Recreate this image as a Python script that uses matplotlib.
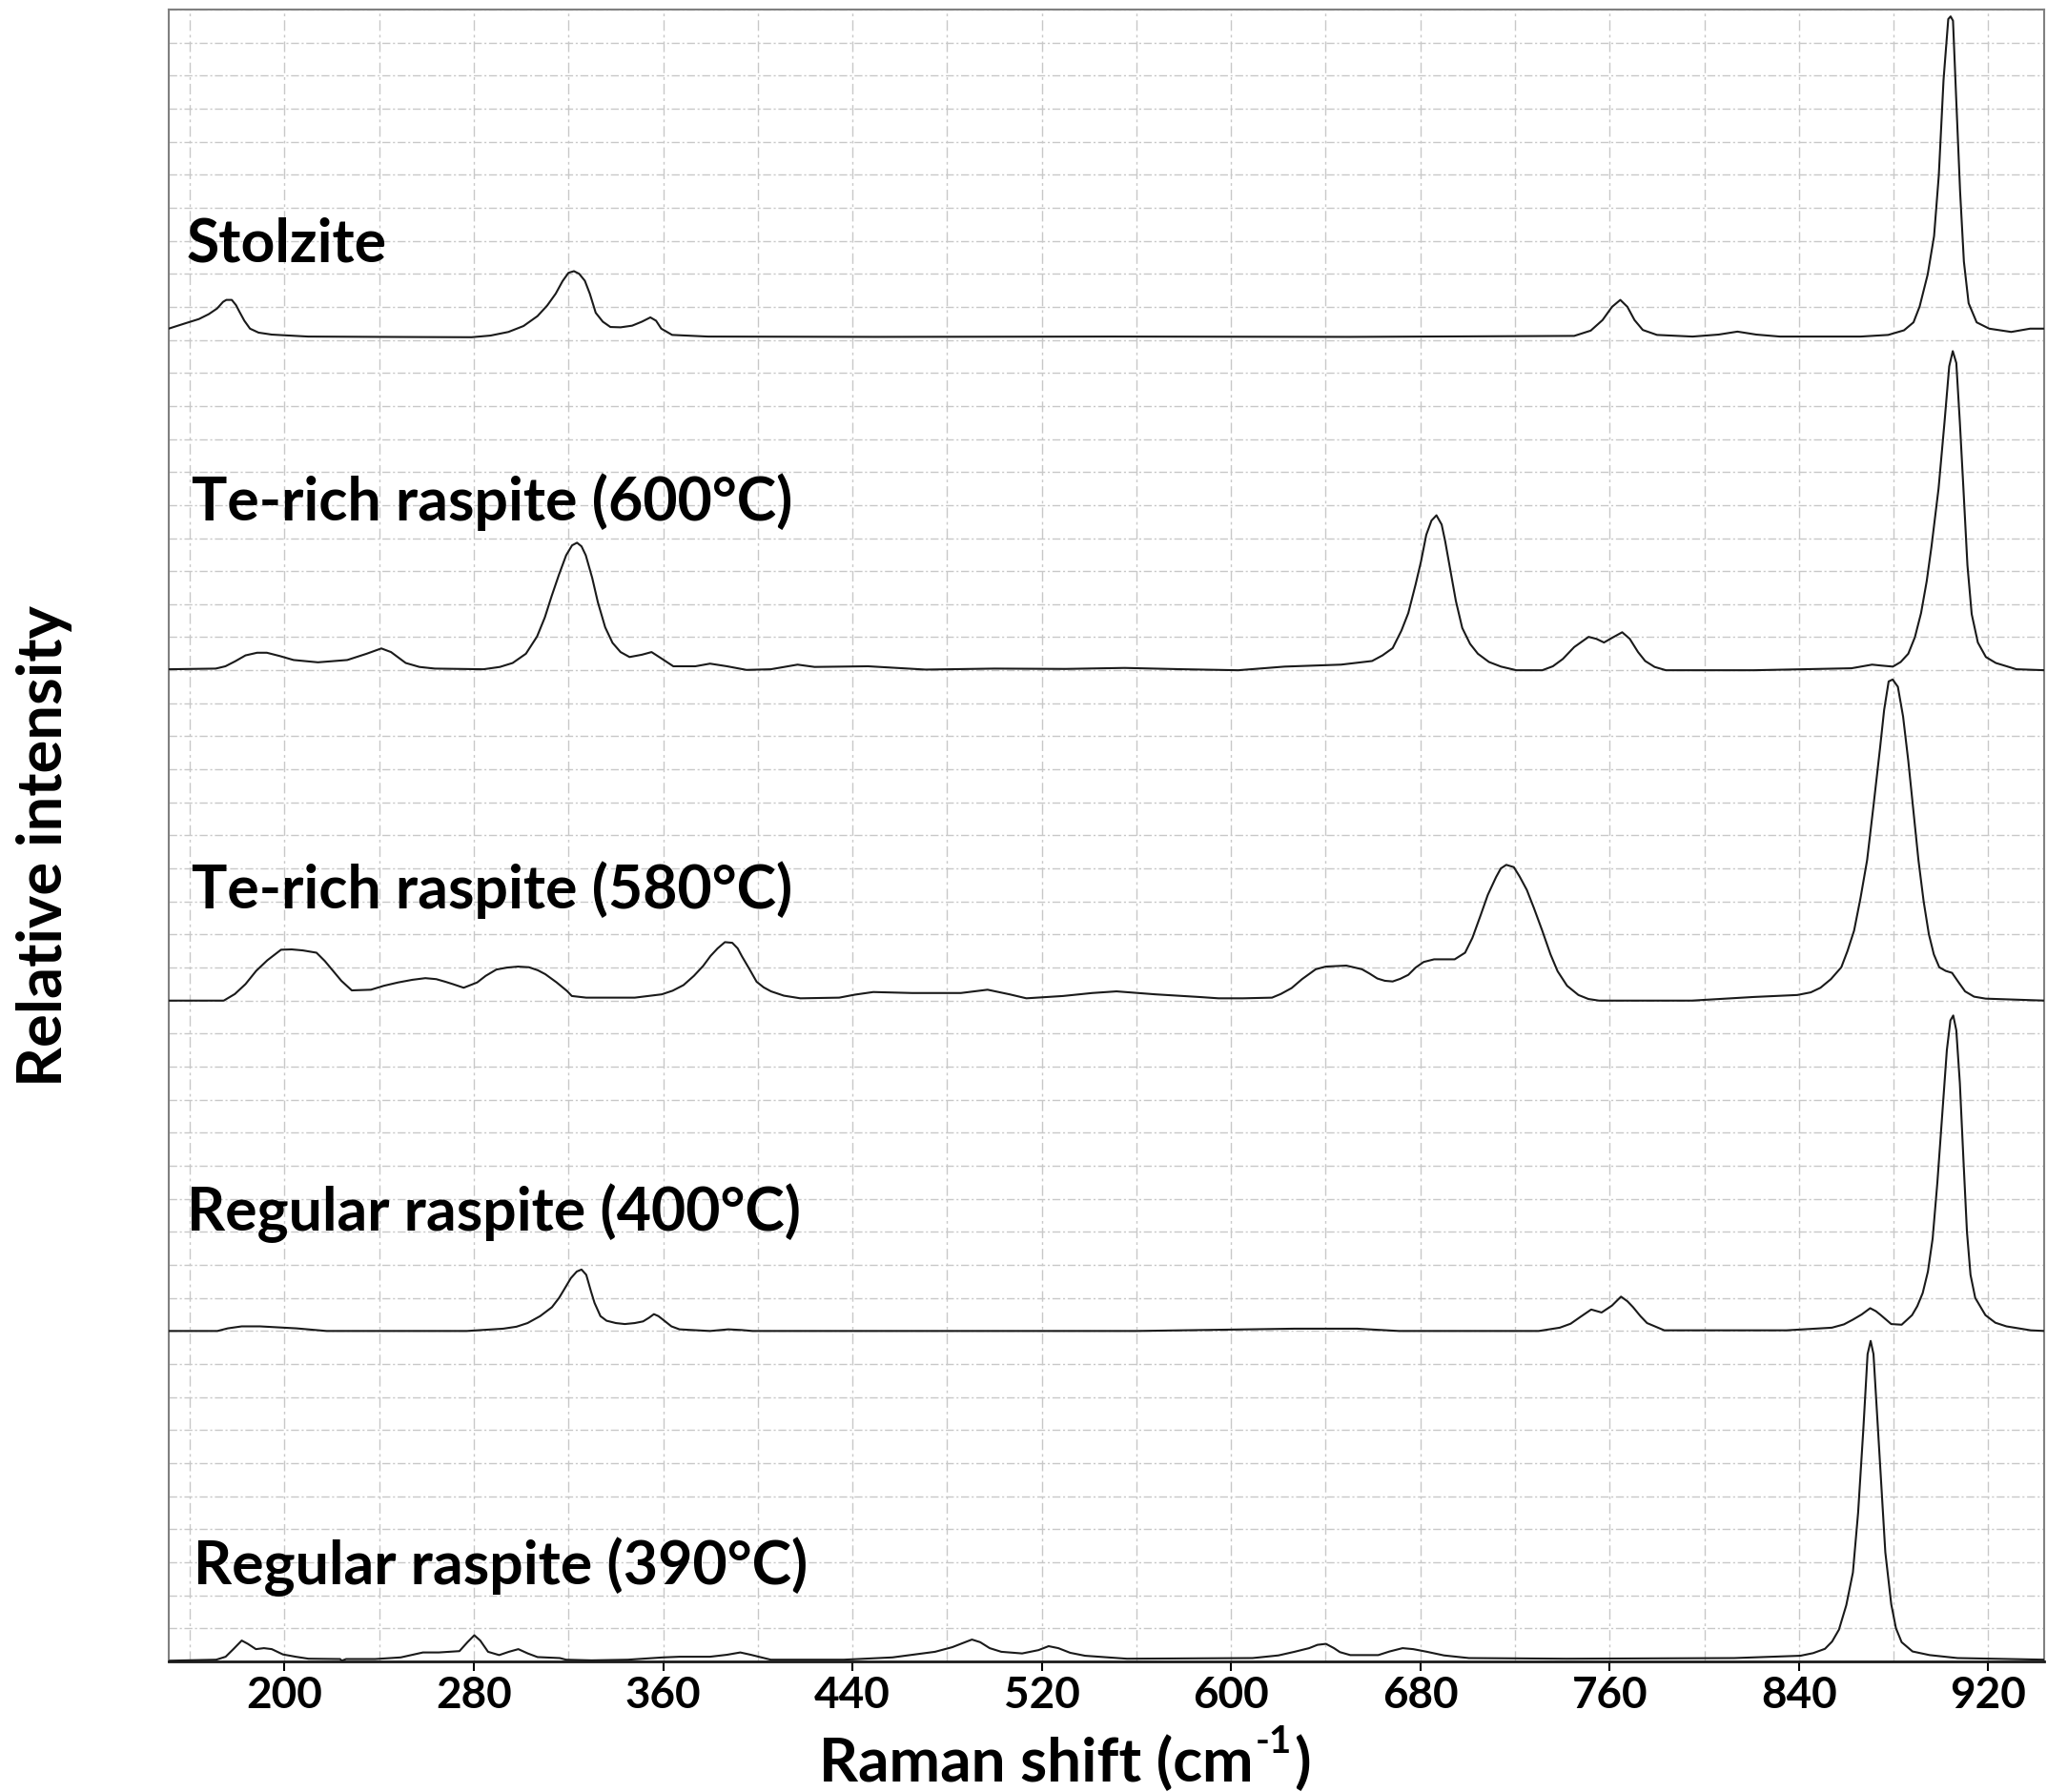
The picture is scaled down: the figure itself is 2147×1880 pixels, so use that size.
import numpy as np
import matplotlib
matplotlib.use("Agg")
import matplotlib.pyplot as plt

plt.rcParams['font.family'] = ['Lato', 'DejaVu Sans']

# Raman spectra (x in cm-1, intensity relative to each panel baseline)
stolzite_x = [151, 158, 163.8, 168, 171.5, 174, 175.4, 177.7, 179.5, 180.8, 183, 185.4, 189, 194.6, 210, 240,
              279, 287, 294.6, 301, 306.9, 311, 314.6, 317.5, 320, 322.3, 324.5, 326.9, 329, 331.5, 334.5,
              337.7, 342, 346.9, 351, 354.6, 357, 359.2, 363.8, 379, 450, 550, 650, 745, 752, 757, 761,
              764.5, 767.5, 770.5, 774, 780, 795, 806, 814, 822, 832, 866, 877.7, 884.4, 888.4, 891, 894.4,
              897.1, 899.1, 901.1, 903.1, 904.1, 905.1, 906.4, 908.1, 909.7, 911.7, 915.1, 920.4, 929.7,
              937.7, 944]
stolzite_y = [0.034, 0.05, 0.063, 0.078, 0.095, 0.115, 0.121, 0.121, 0.105, 0.087, 0.058, 0.034, 0.022, 0.016,
              0.010, 0.009, 0.008, 0.013, 0.024, 0.042, 0.072, 0.104, 0.140, 0.178, 0.203, 0.208, 0.200, 0.179,
              0.140, 0.082, 0.055, 0.039, 0.038, 0.043, 0.055, 0.068, 0.058, 0.034, 0.015, 0.010, 0.009, 0.010,
              0.009, 0.012, 0.028, 0.06, 0.10, 0.121, 0.10, 0.06, 0.03, 0.015, 0.01, 0.016, 0.025, 0.016,
              0.010, 0.010, 0.015, 0.029, 0.053, 0.101, 0.198, 0.314, 0.498, 0.787, 0.971, 0.979, 0.966,
              0.739, 0.449, 0.237, 0.111, 0.053, 0.034, 0.024, 0.034, 0.034]

te600_x = [151, 170.9, 175, 179.1, 183.5, 188.4, 192.5, 198, 203.8, 214.1, 226.5, 234.7, 240.9, 245, 251.2,
           257, 263.5, 284.1, 291, 296.4, 302, 306.7, 310, 312.9, 316, 319.0, 321.5, 323.6, 325.5, 327.3,
           330, 332.4, 335.5, 338.6, 342, 345.8, 351.0, 355.1, 359.2, 364.3, 373.6, 379.8, 387, 395.2,
           405.5, 416.8, 424, 446.6, 470.9, 500, 530, 555, 580, 603, 622.6, 646.5, 659.6, 664, 668.3, 672,
           674.9, 678, 680.3, 682.5, 684.7, 686.8, 689, 690.5, 692.3, 695, 697.7, 701, 704.3, 709, 714.1,
           720.6, 731.5, 736, 740.2, 745, 751.1, 754.4, 757.6, 761, 765.3, 768.5, 772, 775, 779, 783.8,
           820.8, 862.2, 870.9, 875, 879.7, 883, 886.2, 889, 891.6, 894, 896, 899, 901.5, 903.5, 905,
           906.5, 908, 909.5, 911.2, 913, 915.6, 919, 923.2, 931.9, 944]
te600_y = [0.003, 0.005, 0.012, 0.027, 0.045, 0.053, 0.053, 0.043, 0.031, 0.024, 0.031, 0.050, 0.066, 0.055,
           0.022, 0.010, 0.005, 0.003, 0.01, 0.022, 0.05, 0.102, 0.16, 0.225, 0.29, 0.348, 0.378, 0.386,
           0.375, 0.348, 0.28, 0.206, 0.13, 0.083, 0.055, 0.040, 0.047, 0.055, 0.036, 0.012, 0.012, 0.020,
           0.012, 0.001, 0.003, 0.017, 0.010, 0.012, 0.002, 0.005, 0.004, 0.007, 0.003, 0.0, 0.011, 0.017,
           0.028, 0.045, 0.067, 0.12, 0.173, 0.26, 0.330, 0.41, 0.453, 0.469, 0.441, 0.39, 0.318, 0.21,
           0.128, 0.08, 0.050, 0.025, 0.011, 0.0, 0.0, 0.012, 0.034, 0.07, 0.101, 0.095, 0.084, 0.098,
           0.115, 0.095, 0.055, 0.028, 0.01, 0.0, 0.0, 0.006, 0.017, 0.014, 0.011, 0.025, 0.050, 0.10,
           0.173, 0.27, 0.374, 0.55, 0.75, 0.92, 0.966, 0.93, 0.75, 0.55, 0.318, 0.17, 0.084, 0.04, 0.022,
           0.003, 0.0]

te580_x = [151, 174.3, 179, 183.5, 188, 192.7, 198.5, 203, 207.7, 213.5, 217, 220.4, 224, 228.4, 236.5, 242,
           248, 254, 259.5, 264.1, 268, 271.1, 275.7, 281.4, 285, 289.5, 294, 298.7, 303.3, 307, 310.2,
           315, 319.4, 321.4, 327.5, 348, 359.4, 364, 368.6, 373, 376.9, 380, 383, 386.1, 389.2, 391.5,
           393.3, 396.5, 399.5, 402.5, 405.6, 411, 418, 434.4, 441, 448.8, 465.2, 485.8, 497.1, 506.4,
           513.5, 529, 541.3, 551.6, 568, 586.5, 594.7, 605, 617.3, 621, 625.6, 630, 635.8, 640, 648.7,
           655.3, 658.5, 661.8, 665, 668.3, 671.5, 674.9, 678, 681.4, 685.8, 690, 694.5, 698.9, 702,
           705.4, 708.5, 712, 714, 716.3, 719.5, 722, 725, 728, 731.5, 735, 738.0, 742, 746.8, 751, 755.5,
           794.7, 820.8, 839.3, 845, 849.1, 853.5, 857.9, 860.5, 863.3, 866, 868.8, 871.5, 874.2, 876,
           877.9, 879.6, 881.8, 884, 886.2, 888.3, 890.5, 892.7, 894.9, 897, 899.3, 902, 904.7, 907.5,
           910.2, 914, 918.9, 944]
te580_y = [0.0, 0.0, 0.02, 0.05, 0.09, 0.122, 0.154, 0.155, 0.152, 0.145, 0.12, 0.091, 0.06, 0.031, 0.033,
           0.045, 0.055, 0.063, 0.068, 0.065, 0.057, 0.050, 0.039, 0.055, 0.075, 0.094, 0.10, 0.103, 0.101,
           0.092, 0.080, 0.055, 0.029, 0.014, 0.009, 0.009, 0.019, 0.03, 0.047, 0.075, 0.105, 0.135, 0.158,
           0.177, 0.175, 0.158, 0.134, 0.095, 0.057, 0.04, 0.028, 0.015, 0.007, 0.009, 0.018, 0.026, 0.023,
           0.023, 0.033, 0.019, 0.007, 0.014, 0.023, 0.028, 0.019, 0.011, 0.007, 0.007, 0.009, 0.02, 0.038,
           0.065, 0.095, 0.103, 0.106, 0.095, 0.082, 0.067, 0.06, 0.058, 0.066, 0.078, 0.10, 0.117, 0.125,
           0.125, 0.125, 0.145, 0.19, 0.257, 0.32, 0.374, 0.40, 0.411, 0.404, 0.375, 0.335, 0.28, 0.212,
           0.14, 0.089, 0.045, 0.017, 0.005, 0.0, 0.0, 0.011, 0.017, 0.025, 0.039, 0.065, 0.101, 0.15,
           0.212, 0.31, 0.425, 0.59, 0.760, 0.88, 0.966, 0.972, 0.95, 0.86, 0.726, 0.58, 0.425, 0.30,
           0.201, 0.14, 0.101, 0.09, 0.084, 0.055, 0.028, 0.012, 0.006, 0.0]

reg400_x = [151, 171.6, 176, 181.9, 189.6, 205, 217.8, 277, 292.4, 298, 302.7, 308, 313, 316, 318.1, 321,
            323.5, 325.5, 327.5, 329.5, 331, 333.5, 336.1, 340, 343.8, 348, 351.5, 354, 356.1, 358, 360.5,
            363.5, 366.9, 379.8, 387.5, 393, 397.8, 482, 560, 626.8, 653.3, 671, 730, 738.9, 743.5, 747.7,
            752.2, 756.6, 761, 764.8, 767.5, 769.9, 773, 775.8, 783.1, 834.7, 853.9, 859, 862.7, 866.5,
            870.1, 872.5, 874.6, 879, 883.4, 887.8, 890, 892.3, 894.5, 896.5, 898.5, 900.5, 902.5, 904,
            905.2, 906.5, 908, 909.5, 911, 912.5, 914.5, 918.8, 923, 927.7, 938, 944]
reg400_y = [0.0, 0.0, 0.008, 0.014, 0.014, 0.008, 0.0, 0.0, 0.007, 0.013, 0.024, 0.045, 0.072, 0.10, 0.125,
            0.160, 0.180, 0.186, 0.170, 0.12, 0.085, 0.045, 0.031, 0.024, 0.021, 0.024, 0.029, 0.040, 0.051,
            0.045, 0.031, 0.014, 0.005, 0.0, 0.005, 0.003, 0.0, 0.0, 0.0, 0.007, 0.007, 0.0, 0.0, 0.010,
            0.022, 0.043, 0.065, 0.056, 0.077, 0.104, 0.09, 0.072, 0.045, 0.024, 0.002, 0.002, 0.010, 0.02,
            0.034, 0.05, 0.069, 0.06, 0.048, 0.021, 0.019, 0.048, 0.075, 0.115, 0.18, 0.28, 0.45, 0.65,
            0.85, 0.94, 0.955, 0.91, 0.75, 0.52, 0.30, 0.17, 0.10, 0.048, 0.025, 0.014, 0.002, 0.0]

reg390_x = [151.6, 171.1, 175.1, 178.5, 181.9, 184.5, 187.9, 191.3, 194.6, 199.3, 204.7, 210.1, 223.5, 224.2,
            226, 238.3, 249.1, 258.5, 265.2, 273.9, 277.3, 280.2, 282.7, 286, 290.7, 294.8, 298.8, 302.8,
            306.9, 316.3, 319, 329.7, 345, 360, 366.9, 379.8, 387, 392.6, 397, 400.4, 405.5, 436.3, 456.9,
            474.9, 482.2, 486.5, 490.5, 494, 498, 502.9, 511.7, 518.6, 522.9, 527, 532, 538.3, 556, 609.1,
            620, 626.8, 633, 636.5, 640.1, 643.5, 646, 650.4, 662.2, 667, 672.5, 677, 682.8, 690, 700.5,
            741.8, 812.6, 840.6, 846, 851, 854, 856.9, 860, 862.8, 865, 867.2, 869, 870.3, 871.5, 873,
            874.6, 876.5, 879, 881, 883.4, 888, 895.2, 907, 944]
reg390_y = [0.002, 0.005, 0.014, 0.038, 0.063, 0.053, 0.037, 0.040, 0.037, 0.021, 0.014, 0.008, 0.007, 0.002,
            0.007, 0.007, 0.012, 0.027, 0.027, 0.031, 0.058, 0.079, 0.063, 0.029, 0.019, 0.029, 0.037, 0.024,
            0.013, 0.010, 0.005, 0.003, 0.005, 0.012, 0.014, 0.014, 0.02, 0.027, 0.02, 0.014, 0.005, 0.005,
            0.012, 0.029, 0.043, 0.055, 0.066, 0.058, 0.04, 0.029, 0.024, 0.034, 0.046, 0.04, 0.026, 0.017,
            0.008, 0.010, 0.018, 0.029, 0.04, 0.05, 0.053, 0.04, 0.028, 0.019, 0.019, 0.03, 0.040, 0.037,
            0.029, 0.018, 0.010, 0.008, 0.010, 0.017, 0.025, 0.038, 0.06, 0.096, 0.17, 0.269, 0.45, 0.702,
            0.93, 0.970, 0.93, 0.75, 0.558, 0.33, 0.173, 0.10, 0.058, 0.03, 0.019, 0.010, 0.005]

labels = ["Stolzite", "Te-rich raspite (600°C)", "Te-rich raspite (580°C)",
          "Regular raspite (400°C)", "Regular raspite (390°C)"]
label_x = [158.7, 160.9, 160.9, 158.7, 161.6]
label_y = [0.29, 0.51, 0.334, 0.356, 0.286]
offsets = [4, 3, 2, 1, 0]

xs = [stolzite_x, te600_x, te580_x, reg400_x, reg390_x]
ys = [stolzite_y, te600_y, te580_y, reg400_y, reg390_y]

fig = plt.figure(figsize=(21.47, 18.8), dpi=100)
ax = fig.add_axes([0.0826, 0.0729, 0.9161, 0.9218])

for x, y, off, lab, lx, ly in zip(xs, ys, offsets, labels, label_x, label_y):
    ax.plot(x, np.array(y) + off, color='#1a1a1a', lw=1.5, zorder=3)
    ax.text(lx, off + ly, lab, fontsize=45, fontweight='bold', ha='left', va='center', zorder=4)

ax.set_xlim(151.2, 943.7)
ax.set_ylim(0, 5)

ax.set_xticks(np.arange(200, 921, 80))
ax.set_xticks(np.arange(160, 921, 40), minor=True)
ax.set_yticks(np.arange(0, 5.01, 0.1))
ax.tick_params(axis='x', which='major', direction='out', length=7, width=1.5, pad=4,
               labelsize=33)
ax.tick_params(axis='x', which='minor', length=0)
ax.tick_params(axis='y', which='both', length=0, labelleft=False)
for t in ax.get_xticklabels():
    t.set_fontweight('bold')

ax.xaxis.grid(True, which='both', color='#c8c8c8', lw=1.0, linestyle=(0, (8, 3, 2, 3)))
ax.yaxis.grid(True, which='major', color='#c8c8c8', lw=1.0, linestyle=(0, (6, 2, 1.5, 2)))
ax.set_axisbelow(True)

for side in ['left', 'top', 'right']:
    ax.spines[side].set_color('#808080')
    ax.spines[side].set_linewidth(1.5)
ax.spines['bottom'].set_color('#1a1a1a')
ax.spines['bottom'].set_linewidth(2.0)

# x label built from pieces so the superscript keeps a plain hyphen
fig.canvas.draw()
rend = fig.canvas.get_renderer()
fw = fig.bbox.width
ylab = 0.0165
p1 = fig.text(0, ylab, 'Raman shift (cm', fontsize=46, fontweight='bold', ha='left', va='center')
p2 = fig.text(0, ylab + 0.0115, '-1', fontsize=29, fontweight='bold', ha='left', va='center')
p3 = fig.text(0, ylab, ')', fontsize=46, fontweight='bold', ha='left', va='center')
w1 = p1.get_window_extent(rend).width / fw
w2 = p2.get_window_extent(rend).width / fw
w3 = p3.get_window_extent(rend).width / fw
x0 = 0.5191 - (w1 + w2 + w3) / 2
p1.set_x(x0)
p2.set_x(x0 + w1 + 0.001)
p3.set_x(x0 + w1 + w2 + 0.002)

fig.text(0.0215, 0.528, 'Relative intensity', fontsize=47, fontweight='bold', rotation=90,
         ha='center', va='center')

fig.savefig('out.png', dpi=100)
